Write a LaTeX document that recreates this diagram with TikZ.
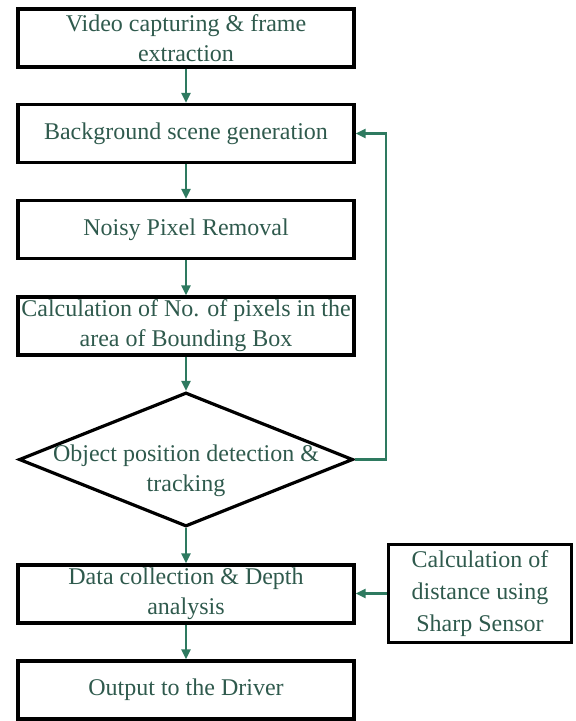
\documentclass[tikz,border=0pt]{standalone}
\usepackage{fontspec}
\setmainfont{Liberation Serif}
\usetikzlibrary{shapes.geometric,arrows.meta}
\definecolor{txtc}{HTML}{2F5A4D}
\definecolor{arrc}{HTML}{2E7A60}
\begin{document}
\begin{tikzpicture}[x=1pt,y=-1pt,
  box/.style={draw=black,line width=3.2pt,rectangle,minimum width=336pt,minimum height=58pt,inner sep=0pt,
    align=center,text=txtc,font=\fontsize{24}{30}\selectfont},
  sbox/.style={box,minimum width=183pt,minimum height=98pt},
  arr/.style={draw=arrc,line width=2.2pt,-{Triangle[length=10pt,width=9pt]}},
  lbl/.style={align=center,text=txtc,font=\fontsize{24}{30}\selectfont,inner sep=0pt}]
\useasboundingbox (0,0) rectangle (576,721);
\node[box] (b1) at (186,38) {Video capturing \& frame\\extraction};
\node[box] (b2) at (186,133.5) {Background scene generation};
\node[box] (b3) at (186,229.5) {Noisy Pixel Removal};
\node[box] (b4) at (186,326) {Calculation of No. of pixels in the\\area of Bounding Box};
\node[draw=black,line width=3.2pt,diamond,minimum width=334pt,minimum height=134pt,inner sep=0pt] (d) at (186,459.5) {};
\node[lbl] (dt) at (186,471) {Object position detection \&\\tracking};
\node[box] (b5) at (186,594) {Data collection \& Depth\\analysis};
\node[box] (b6) at (186,690) {Output to the Driver};
\node[sbox,font=\fontsize{24}{32}\selectfont] (s) at (480,593.5) {Calculation of\\distance using\\Sharp Sensor};
\coordinate (fb) at (386,459.5);
\draw[arr] (b1) -- (b2);
\draw[arr] (b2) -- (b3);
\draw[arr] (b3) -- (b4);
\draw[arr] (b4.south) -- (d.north);
\draw[arr] (d.south) -- (b5.north -| d.south);
\draw[arr] (b5) -- (b6);
\draw[arr] (d.east) -- (fb) |- (b2.east);
\draw[arr] (s.west) -- (b5.east |- s.west);
\end{tikzpicture}
\end{document}
